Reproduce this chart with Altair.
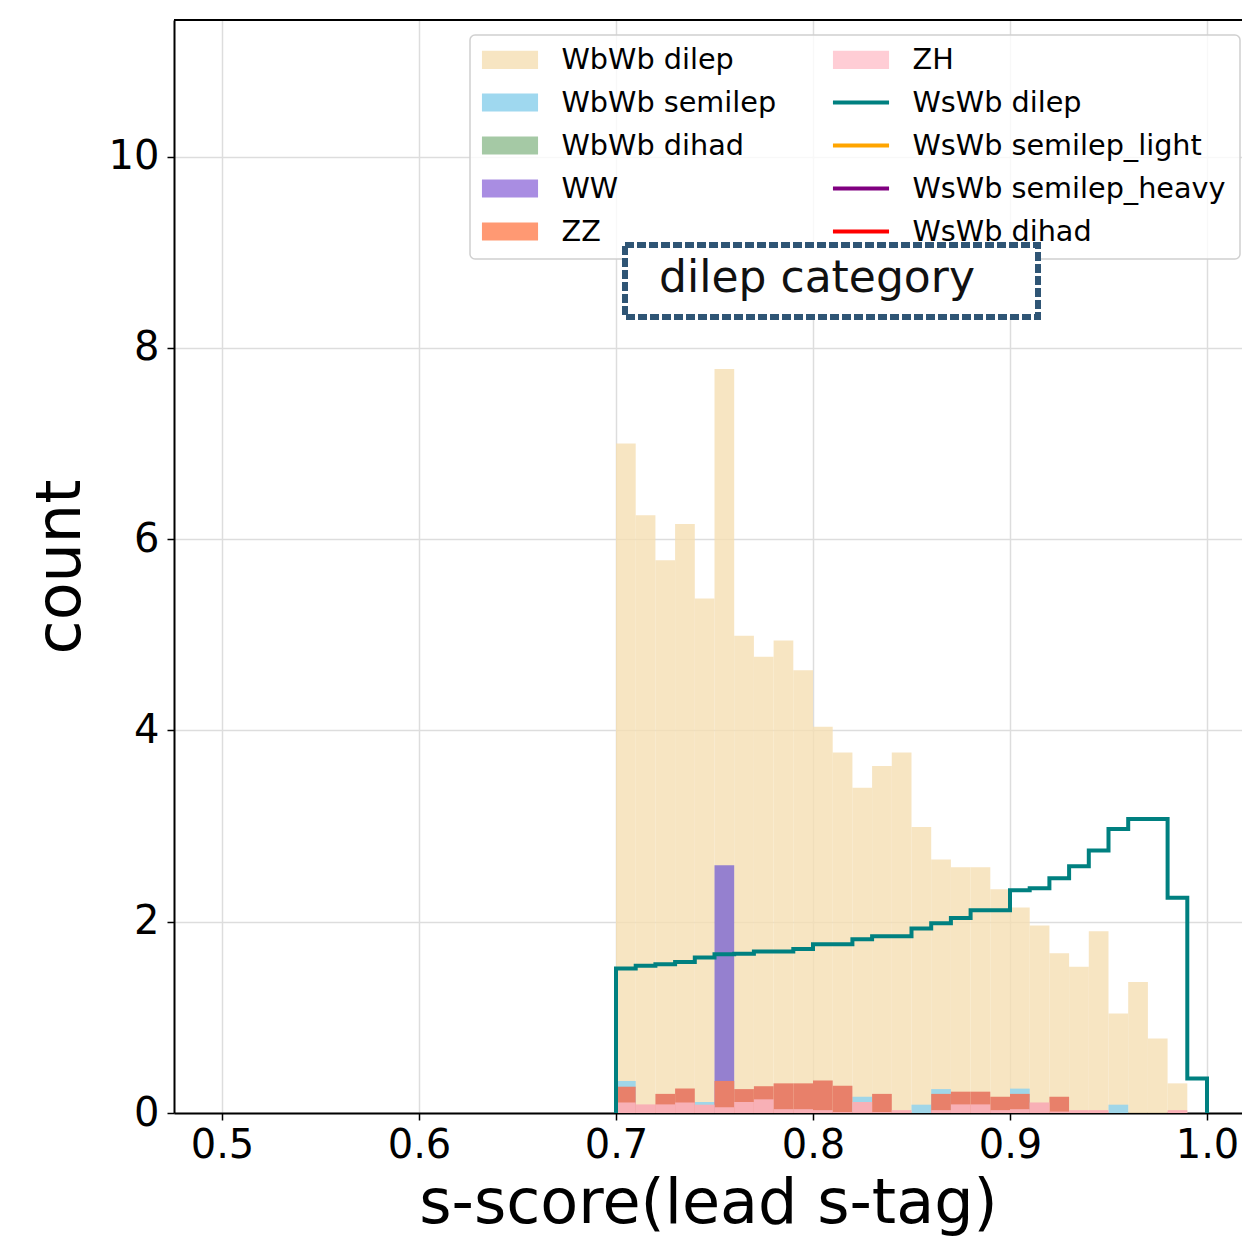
import altair as alt
import pandas as pd

# ---- data ----
bin_start = [0.70, 0.71, 0.72, 0.73, 0.74, 0.75, 0.76, 0.77, 0.78, 0.79,
             0.80, 0.81, 0.82, 0.83, 0.84, 0.85, 0.86, 0.87, 0.88, 0.89,
             0.90, 0.91, 0.92, 0.93, 0.94, 0.95, 0.96, 0.97, 0.98, 0.99]
bin_width = 0.01

wbwb_dilep = [7.00, 6.25, 5.78, 6.16, 5.38, 7.78, 4.99, 4.77, 4.94, 4.63,
              4.04, 3.77, 3.40, 3.63, 3.77, 2.99, 2.65, 2.57, 2.57, 2.34,
              2.15, 1.96, 1.67, 1.53, 1.90, 1.04, 1.37, 0.78, 0.31, 0.00]
wbwb_semilep = [0.335, 0, 0, 0, 0.115, 0, 0, 0, 0, 0,
                0, 0, 0.17, 0, 0, 0.087, 0.25, 0, 0, 0,
                0.255, 0, 0, 0, 0, 0.087, 0, 0, 0, 0]
wbwb_dihad = [0] * 30
ww = [0, 0, 0, 0, 0, 2.59, 0, 0, 0, 0,
      0, 0, 0, 0, 0, 0, 0, 0, 0, 0,
      0, 0, 0, 0, 0, 0, 0, 0, 0, 0]
zz = [0.275, 0, 0.20, 0.255, 0, 0.335, 0.25, 0.28, 0.31, 0.31,
      0.34, 0.285, 0, 0.20, 0, 0, 0.20, 0.223, 0.223, 0.17,
      0.20, 0, 0.17, 0, 0, 0, 0, 0, 0, 0]
zh = [0.11, 0.09, 0.09, 0.11, 0.087, 0.06, 0.115, 0.143, 0.04, 0.04,
      0.03, 0.01, 0.115, 0.01, 0.03, 0.0, 0.03, 0.09, 0.09, 0.03,
      0.04, 0.11, 0.015, 0.03, 0.03, 0, 0, 0, 0.03, 0]
wswb_dilep = [1.51, 1.54, 1.555, 1.58, 1.625, 1.66, 1.665, 1.69, 1.69, 1.715,
              1.765, 1.765, 1.817, 1.848, 1.848, 1.93, 1.985, 2.04, 2.12, 2.12,
              2.33, 2.35, 2.455, 2.58, 2.745, 2.97, 3.075, 3.075, 2.25, 0.36]

x_ticks = [0.5, 0.6, 0.7, 0.8, 0.9, 1.0]
y_ticks = [0, 2, 4, 6, 8, 10]

# filled histograms, drawn in this order (later ones on top): name, values, colour, opacity
hist_series = [
    ("WbWb dilep", wbwb_dilep, "#F5DEB3", 0.8),
    ("WbWb semilep", wbwb_semilep, "#A0D6E8", 1.0),
    ("WbWb dihad", wbwb_dihad, "#9CC49A", 1.0),
    ("WW", ww, "#9580CF", 1.0),
    ("ZZ", zz, "#E8806A", 1.0),
    ("ZH", zh, "#F8B0B6", 1.0),
]

# legend entries (column-major, 2 columns)
legend_order = ["WbWb dilep", "WbWb semilep", "WbWb dihad", "WW", "ZZ",
                "ZH", "WsWb dilep", "WsWb semilep_light", "WsWb semilep_heavy",
                "WsWb dihad"]
legend_colors = ["#F7E5C2", "#9FD8EF", "#A5C9A5", "#A98DE2", "#FF9973",
                 "#FFCDD5", "#008080", "#FFA500", "#800080", "#FF0000"]
RECT = "M-1.7,-0.55H1.7V0.55H-1.7Z"
LINE = "M-1.7,-0.12H1.7V0.12H-1.7Z"
legend_shapes = [RECT, RECT, RECT, RECT, RECT, RECT, LINE, LINE, LINE, LINE]

# ---- geometry ----
W, H = 1068, 1093
x_lo = 0.5 - 48 / 1970
x_hi = x_lo + W / 1970
y_hi = 11.43
FONT = "DejaVu Sans"

x_scale = alt.Scale(domain=[x_lo, x_hi], nice=False, zero=False)
y_scale = alt.Scale(domain=[0, y_hi], nice=False)

x_axis = alt.Axis(values=x_ticks, format=".1f", title="s-score(lead s-tag)",
                  labelFontSize=40, titleFontSize=62, labelFont=FONT, titleFont=FONT,
                  titleFontWeight="normal", labelColor="black", titleColor="black",
                  tickSize=7, tickWidth=1.5, tickColor="black",
                  domainColor="black", domainWidth=2, labelPadding=5, titlePadding=8,
                  labelFlush=False, labelOverlap=False,
                  gridColor="#dddddd", gridWidth=1.5)
y_axis = alt.Axis(values=y_ticks, title="count",
                  labelFontSize=40, titleFontSize=62, labelFont=FONT, titleFont=FONT,
                  titleFontWeight="normal", labelColor="black", titleColor="black",
                  tickSize=7, tickWidth=1.5, tickColor="black",
                  domainColor="black", domainWidth=2, labelPadding=8, titlePadding=16,
                  labelOverlap=False,
                  gridColor="#dddddd", gridWidth=1.5)

layers = []
for name, vals, col, op in hist_series:
    rows = [{"x0": b, "x1": round(b + bin_width, 4), "h": v, "base": 0.0}
            for b, v in zip(bin_start, vals) if v > 0]
    if not rows:
        continue
    df = pd.DataFrame(rows)
    layers.append(
        alt.Chart(df).mark_bar(color=col, opacity=op).encode(
            x=alt.X("x0:Q", scale=x_scale, axis=x_axis),
            x2="x1:Q",
            y=alt.Y("h:Q", scale=y_scale, axis=y_axis, stack=None),
            y2="base:Q",
        )
    )

# step outline for WsWb dilep
pts = [{"x": bin_start[0], "y": 0.0}]
for b, v in zip(bin_start, wswb_dilep):
    pts.append({"x": b, "y": v})
last_edge = round(bin_start[-1] + bin_width, 4)
pts.append({"x": last_edge, "y": wswb_dilep[-1]})
pts.append({"x": last_edge, "y": 0.0})
for i, p in enumerate(pts):
    p["idx"] = i
line_df = pd.DataFrame(pts)
layers.append(
    alt.Chart(line_df).mark_line(color="#008080", strokeWidth=4,
                                 interpolate="step-after").encode(
        x=alt.X("x:Q", scale=x_scale, axis=x_axis),
        y=alt.Y("y:Q", scale=y_scale, axis=y_axis),
        order="idx:Q",
    )
)

# top spine
one = pd.DataFrame({"a": [0]})
layers.append(
    alt.Chart(one).mark_rule(color="black", strokeWidth=2).encode(
        x=alt.value(0), x2=alt.value(W), y=alt.value(0)
    )
)

# legend frame (semi-transparent white box with light border)
layers.append(
    alt.Chart(one).mark_rect(fill="white", fillOpacity=0.8, stroke="#d0d0d0",
                             strokeWidth=1.5, cornerRadius=5).encode(
        x=alt.value(296), x2=alt.value(1066), y=alt.value(15), y2=alt.value(239)
    )
)

# legend carrier (points placed outside the plot and clipped away)
leg_df = pd.DataFrame({"series": legend_order})
layers.append(
    alt.Chart(leg_df).mark_point(filled=True, clip=True, opacity=1).encode(
        x=alt.value(-60), y=alt.value(-60),
        color=alt.Color("series:N", title=None,
                        scale=alt.Scale(domain=legend_order, range=legend_colors),
                        legend=alt.Legend(orient="none", legendX=296, legendY=13,
                                          columns=2, columnPadding=54, rowPadding=11,
                                          padding=10, symbolSize=1089, symbolOffset=13.5,
                                          labelOffset=35, symbolOpacity=1,
                                          symbolStrokeWidth=0,
                                          labelFont=FONT, labelFontSize=28.7,
                                          labelColor="black", labelLimit=600)),
        shape=alt.Shape("series:N",
                        scale=alt.Scale(domain=legend_order, range=legend_shapes)),
    )
)

# "dilep category" annotation box
layers.append(
    alt.Chart(one).mark_rect(fill="white", stroke="#2F5575", strokeWidth=6,
                             strokeDash=[9, 3]).encode(
        x=alt.value(451), x2=alt.value(864), y=alt.value(225), y2=alt.value(297)
    )
)
layers.append(
    alt.Chart(pd.DataFrame({"t": ["dilep category"]})).mark_text(
        font=FONT, fontSize=44, color="#111111", align="center", baseline="middle"
    ).encode(x=alt.value(643), y=alt.value(259), text="t:N")
)

chart = alt.layer(*layers).properties(
    width=W, height=H,
    autosize=alt.AutoSizeParams(type="none"),
    padding={"left": 166, "top": 12, "right": 0, "bottom": 125},
    background="white",
).configure_view(stroke=None)

chart.save("out.html", embed_options={"renderer": "svg", "actions": False})
